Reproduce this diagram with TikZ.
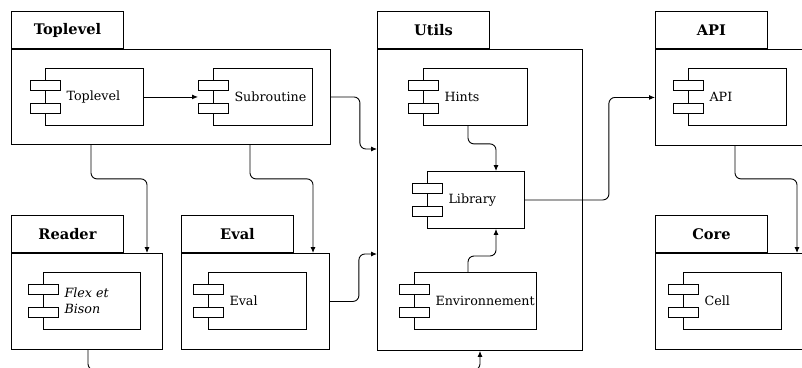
\documentclass[tikz,border=0pt]{standalone}
\usepackage{fontspec}
\setmainfont{DejaVu Serif}
\usetikzlibrary{arrows.meta}
\tikzset{
  pkg/.style={draw, line width=0.9pt, anchor=north west, inner sep=0pt},
  tab/.style={draw, line width=0.9pt, anchor=south west, inner sep=0pt,
    minimum width=112pt, minimum height=37pt,
    font=\fontsize{14.6}{16}\selectfont\bfseries},
  comp/.style={draw, line width=0.9pt, anchor=north west, inner sep=0pt,
    minimum height=57pt},
  pin/.style={draw, fill=white, line width=0.9pt},
  conn/.style={line width=0.9pt, rounded corners=6pt,
    -{Latex[length=6pt,width=5pt]}},
}
% package: name, x, y, width, height, title
\def\drawPackage#1#2#3#4#5#6{
\node[pkg, minimum width=#4pt, minimum height=#5pt] (#1P) at (#2,#3) {};
\node[tab] (#1T) at (#1P.north west) {#6};
}
% component: name, x, y, width, text
\def\drawComp#1#2#3#4#5{
\node[comp, minimum width=#4pt,
  label={[anchor=west, xshift=18pt, align=left]west:#5}] (#1) at (#2,#3) {};
\draw[pin] ([xshift=-15pt, yshift=16.5pt]#1.west) rectangle ++(30,10);
\draw[pin] ([xshift=-15pt, yshift=-6.5pt]#1.west) rectangle ++(30,10);
}
\begin{document}
\begin{tikzpicture}[x=1pt, y=-1pt, font=\fontsize{12.7}{16}\selectfont]
	\useasboundingbox (0,0) rectangle (802,367);
	\clip (0,0) rectangle (802,367);
	% packages
	\drawPackage{top}{11}{49}{319}{95}{Toplevel}
	\drawPackage{reader}{11}{253}{151}{96}{Reader}
	\drawPackage{eval}{181}{253}{148}{96}{Eval}
	\drawPackage{utils}{377}{49}{205}{301}{Utils}
	\drawPackage{api}{655}{49}{152}{96}{API}
	\drawPackage{core}{655}{253}{152}{96}{Core}
	% components
	\drawComp{toplevel}{45}{68}{98}{Toplevel}
	\drawComp{sub}{213}{68}{99}{Subroutine}
	\drawComp{flex}{43}{272}{97}{{\itshape Flex et}\\{\itshape Bison}}
	\drawComp{evalC}{208}{272}{98}{Eval}
	\drawComp{hints}{423}{68}{104}{Hints}
	\drawComp{lib}{427}{171}{97}{Library}
	\drawComp{env}{414}{272}{122}{Environnement}
	\drawComp{apiC}{688}{68}{98}{API}
	\drawComp{cell}{683}{272}{98}{Cell}
	% connectors
	\draw[conn] (toplevel) -- ([xshift=-15pt]sub.west);
	\draw[conn] (topP.east) -- ++(29,0) |- (utilsP.west |- 0,149);
	\draw[conn] ([xshift=80pt]topP.south west) -- ++(0,34) -| ([xshift=136pt]readerP.north west);
	\draw[conn] ([xshift=239pt]topP.south west) -- ++(0,34) -| ([xshift=132pt]evalP.north west);
	\draw[conn] (evalP.east) -- ++(29,0) |- (utilsP.west |- 0,254);
	\draw[conn] ([xshift=77pt]readerP.south west) -- ++(0,20) -| ([xshift=103pt]utilsP.south west);
	\draw[conn] ([xshift=45pt]hints.south west) -- ++(0,18) -| ([xshift=69pt]lib.north west);
	\draw[conn] ([xshift=54pt]env.north west) -- ++(0,-16) -| ([xshift=69pt]lib.south west);
	\draw[conn] (lib.east) -- ++(84,0) |- (apiP.west);
	\draw[conn] ([xshift=80pt]apiP.south west) -- ++(0,33) -| ([xshift=142pt]coreP.north west);
\end{tikzpicture}
\end{document}
